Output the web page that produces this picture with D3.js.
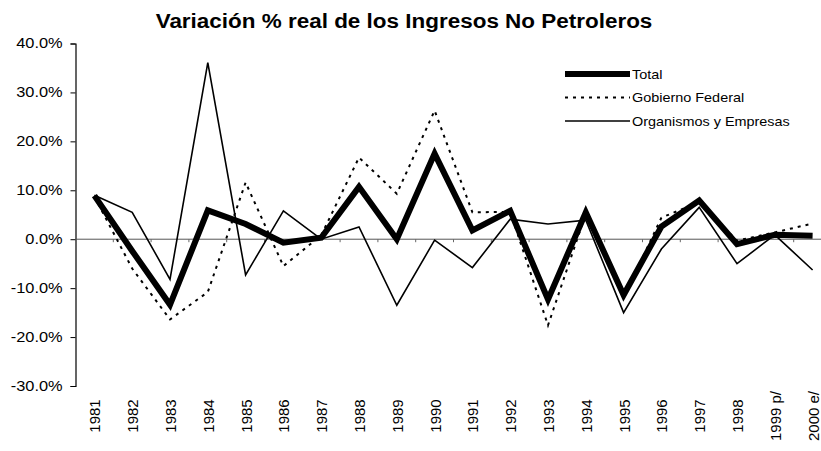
<!DOCTYPE html>
<html>
<head>
<meta charset="utf-8">
<script src="https://cdn.jsdelivr.net/npm/d3@7"></script>
<style>
  body { margin: 0; background: #fff; }
  svg { display: block; font-family: 'Liberation Sans', Arial, sans-serif; }
</style>
</head>
<body>
<div id="grafica"></div>
<script>
// Datos
const anios = ['1981','1982','1983','1984','1985','1986','1987','1988','1989','1990',
  '1991','1992','1993','1994','1995','1996','1997','1998','1999 p/','2000 e/'];
const total = [8.9, -2.4, -13.4, 5.9, 3.1, -0.7, 0.3, 10.7, 0.0, 17.5,
  1.8, 5.8, -12.3, 5.5, -11.4, 2.6, 7.9, -1.0, 0.9, 0.7];
const gobierno = [8.7, -6.0, -16.4, -10.8, 11.6, -5.5, 0.8, 16.7, 9.3, 26.3,
  5.5, 5.6, -17.6, 5.2, -12.0, 4.4, 7.6, -0.3, 1.4, 3.2];
const organismos = [9.0, 5.5, -8.2, 36.1, -7.3, 5.8, 0.0, 2.5, -13.5, -0.2,
  -5.8, 4.1, 3.1, 3.9, -15.0, -2.0, 6.5, -5.0, 0.9, -6.3];
const ticksY = [-30, -20, -10, 0, 10, 20, 30, 40];

const width = 821, height = 451;
const svg = d3.select('#grafica').append('svg')
  .attr('width', width).attr('height', height);

// Título (el original está algo estirado en horizontal)
svg.append('text')
  .attr('transform', 'translate(404,28) scale(1.07,1)')
  .attr('text-anchor', 'middle')
  .attr('font-size', '21px')
  .attr('font-weight', 'bold')
  .text('Variación % real de los Ingresos No Petroleros');

const ejeX = 75.5, paso = 37.8;
const x = d3.scalePoint().domain(anios).range([ejeX + paso / 2, ejeX + paso / 2 + paso * 19]);
const y = d3.scaleLinear().domain([-30, 40]).range([386, 43.5]);

// Eje Y
const gy = svg.append('g').attr('transform', `translate(${ejeX},0)`)
  .call(d3.axisLeft(y).tickValues(ticksY).tickSize(5).tickPadding(6)
    .tickFormat(d => d.toFixed(1) + '%'));
gy.select('.domain').attr('stroke', '#000').attr('stroke-width', 1.2);
gy.selectAll('.tick line').attr('stroke', '#000');
gy.selectAll('.tick text')
  .attr('font-size', '14px').attr('fill', '#000')
  .attr('font-family', 'Liberation Sans, Arial, sans-serif')
  .attr('transform', 'scale(1.17,1)');

// Línea de cero con marcas de categoría
svg.append('line')
  .attr('x1', ejeX).attr('x2', width).attr('y1', y(0)).attr('y2', y(0))
  .attr('stroke', '#555').attr('stroke-width', 1);
svg.selectAll('line.marca')
  .data(d3.range(1, 21))
  .enter().append('line')
  .attr('class', 'marca')
  .attr('x1', d => ejeX + d * paso).attr('x2', d => ejeX + d * paso)
  .attr('y1', y(0)).attr('y2', y(0) + 3)
  .attr('stroke', '#666');

// Etiquetas del eje X
svg.selectAll('text.anio')
  .data(anios)
  .enter().append('text')
  .attr('class', 'anio')
  .attr('transform', d => `translate(${x(d) + 6},416) rotate(-90)`)
  .attr('text-anchor', 'middle')
  .attr('font-size', '15px')
  .text(d => d);

const linea = d3.line().x((d, i) => x(anios[i])).y(d => y(d));

svg.append('path').datum(gobierno)
  .attr('d', linea).attr('fill', 'none')
  .attr('stroke', '#000').attr('stroke-width', 2)
  .attr('stroke-dasharray', '3,5');
svg.append('path').datum(organismos)
  .attr('d', linea).attr('fill', 'none')
  .attr('stroke', '#000').attr('stroke-width', 1.6)
  .attr('stroke-linejoin', 'miter');
svg.append('path').datum(total)
  .attr('d', linea).attr('fill', 'none')
  .attr('stroke', '#000').attr('stroke-width', 6)
  .attr('stroke-linejoin', 'miter');

// Leyenda
const leyenda = [
  { nombre: 'Total', ancho: 6, guion: null },
  { nombre: 'Gobierno Federal', ancho: 2, guion: '3,5' },
  { nombre: 'Organismos y Empresas', ancho: 1.6, guion: null }
];
const gl = svg.selectAll('g.leyenda')
  .data(leyenda)
  .enter().append('g')
  .attr('class', 'leyenda')
  .attr('transform', (d, i) => `translate(565,${74 + i * 23.5})`);
gl.append('line')
  .attr('x1', 0).attr('x2', 65)
  .attr('stroke', '#000')
  .attr('stroke-width', d => d.ancho)
  .attr('stroke-dasharray', d => d.guion);
gl.append('text')
  .attr('transform', 'translate(67,4.5) scale(1.11,1)')
  .attr('font-size', '13px')
  .text(d => d.nombre);
</script>
</body>
</html>
